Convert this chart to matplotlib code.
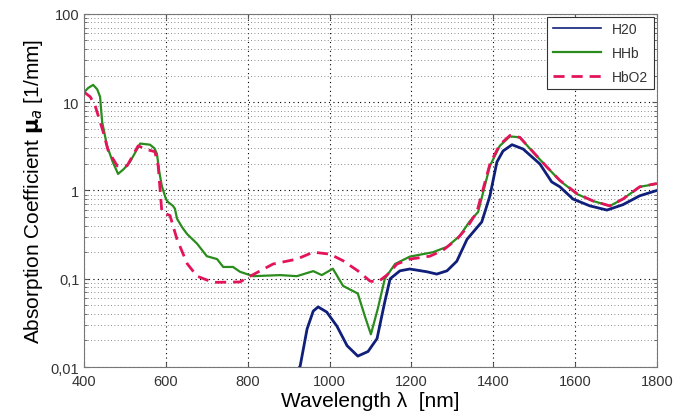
import numpy as np
import matplotlib
matplotlib.use("Agg")
from matplotlib import pyplot as plt
from matplotlib.ticker import LogLocator, FixedLocator, FuncFormatter, NullFormatter

# values
h2o_wl = [923, 928, 945, 960, 972, 993, 1018, 1043, 1069, 1094, 1116, 1135, 1148, 1172, 1196,
          1238, 1262, 1287, 1311, 1336, 1372, 1392, 1409, 1424, 1446, 1473, 1514, 1543, 1563,
          1595, 1636, 1678, 1717, 1758, 1800]
h2o_mu = [0.0095, 0.0102, 0.027, 0.043, 0.048, 0.042, 0.029, 0.0174, 0.0133, 0.015, 0.021, 0.055,
          0.10, 0.123, 0.129, 0.12, 0.113, 0.123, 0.158, 0.28, 0.44, 0.87, 2.1, 2.8, 3.3, 2.95,
          2.0, 1.25, 1.1, 0.80, 0.67, 0.60, 0.69, 0.87, 1.0]

hhb_wl = [400, 410, 422, 432, 439, 444, 456, 470, 483, 497, 512, 537, 561, 572, 578, 584, 590,
          600, 605, 617, 622, 627, 640, 652, 676, 700, 725, 740, 764, 781, 813, 879, 920, 960,
          981, 1008, 1033, 1069, 1086, 1101, 1118, 1135, 1160, 1196, 1253, 1287, 1318, 1343,
          1363, 1392, 1416, 1441, 1465, 1497, 1531, 1563, 1605, 1644, 1685, 1717, 1758, 1800]
hhb_mu = [13.0, 14.5, 15.7, 14.0, 11.5, 6.0, 3.2, 2.1, 1.54, 1.75, 2.1, 3.4, 3.3, 3.0, 2.6, 1.6,
          1.12, 0.80, 0.74, 0.67, 0.62, 0.48, 0.38, 0.32, 0.25, 0.18, 0.167, 0.136, 0.136, 0.12,
          0.107, 0.11, 0.107, 0.122, 0.11, 0.13, 0.083, 0.068, 0.038, 0.0235, 0.046, 0.10, 0.147,
          0.178, 0.20, 0.23, 0.305, 0.45, 0.57, 1.9, 3.2, 4.1, 4.0, 2.73, 1.85, 1.29, 0.91,
          0.76, 0.667, 0.80, 1.1, 1.19]

hbo2_wl = [400, 415, 427, 446, 459, 481, 505, 532, 554, 573, 581, 590, 610, 627, 652, 676, 715,
           781, 806, 862, 920, 960, 1001, 1033, 1069, 1099, 1118, 1140, 1165, 1196, 1245, 1277,
           1311, 1336, 1360, 1392, 1416, 1441, 1465, 1497, 1531, 1563, 1605, 1644, 1685, 1717,
           1758, 1800]
hbo2_mu = [13.0, 11.5, 9.1, 4.7, 2.8, 1.9, 1.9, 3.2, 2.9, 2.75, 1.9, 0.57, 0.52, 0.28, 0.148,
           0.107, 0.091, 0.092, 0.107, 0.147, 0.167, 0.20, 0.19, 0.16, 0.123, 0.094, 0.092, 0.11,
           0.147, 0.167, 0.18, 0.21, 0.28, 0.38, 0.57, 2.0, 3.3, 4.2, 4.0, 2.75, 1.85, 1.3, 0.92,
           0.76, 0.67, 0.80, 1.1, 1.2]

labels = ["H20", "HHb", "HbO2"]
x_ticks = [400, 600, 800, 1000, 1200, 1400, 1600, 1800]

plt.rcParams['font.family'] = ['Liberation Sans', 'DejaVu Sans']

fig = plt.figure(figsize=(6.73, 4.14), dpi=100)
ax = fig.add_axes([0.125, 0.111, 0.851, 0.853])

ax.plot(h2o_wl, h2o_mu, color="#0f1f7a", lw=2.0, label=labels[0])
ax.plot(hhb_wl, hhb_mu, color="#2a8c1c", lw=1.6, label=labels[1])
ax.plot(hbo2_wl, hbo2_mu, color="#e3145c", lw=2.0, ls=(0, (4, 2.5)), label=labels[2])

ax.set_yscale("log")
ax.set_xlim(400, 1800)
ax.set_ylim(0.01, 100)
ax.xaxis.set_major_locator(FixedLocator(x_ticks))
ax.yaxis.set_major_locator(LogLocator(base=10))
ax.yaxis.set_minor_locator(LogLocator(base=10, subs=np.arange(2, 10)))
ax.yaxis.set_minor_formatter(NullFormatter())


def fmt(v, pos):
    return ("%g" % v).replace(".", ",")


ax.yaxis.set_major_formatter(FuncFormatter(fmt))

ax.grid(True, which="major", axis="both", color="black", ls=(0, (1, 3)), lw=0.8)
ax.grid(True, which="minor", axis="y", color="#666666", ls=(0, (1, 3)), lw=0.6)
ax.tick_params(which="both", direction="in", top=True, right=True, labelsize=10.5,
               color="#555555", labelcolor="#333333")
ax.tick_params(axis="x", pad=5)
for sp in ax.spines.values():
    sp.set_color("#777777")

ax.set_xlabel("Wavelength λ  [nm]", fontsize=15, labelpad=2)
ax.set_ylabel("Absorption Coefficient $\\mathbf{\\mu}_a$ [1/mm]", fontsize=15, labelpad=4)

leg = ax.legend(loc="upper right", fontsize=10, fancybox=False, framealpha=1,
                edgecolor="#333333", handlelength=3.5, borderaxespad=0.2, labelspacing=0.7)
leg.get_frame().set_linewidth(0.8)
for t in leg.get_texts():
    t.set_color("#333333")
leg.get_lines()[0].set_linewidth(1.2)

fig.savefig("out.png", dpi=100)
